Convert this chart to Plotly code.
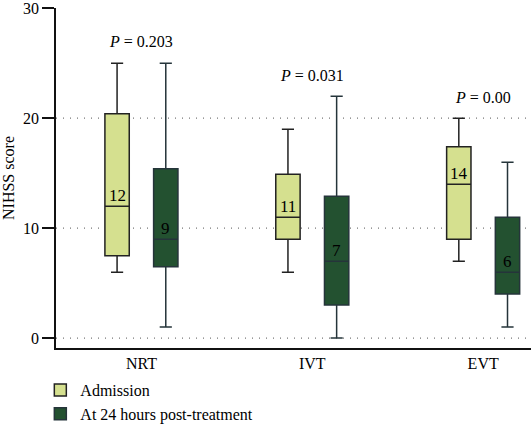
import plotly.graph_objects as go

categories = ["NRT", "IVT", "EVT"]
series_names = ["Admission", "At 24 hours post-treatment"]

adm_low = [6, 6, 7]
adm_q1 = [7.5, 9, 9]
adm_med = [12, 11, 14]
adm_q3 = [20.4, 14.9, 17.4]
adm_high = [25, 19, 20]

post_low = [1, 0, 1]
post_q1 = [6.5, 3, 4]
post_med = [9, 7, 6]
post_q3 = [15.4, 12.9, 11]
post_high = [25, 22, 16]

p_labels = ["0.203", "0.031", "0.00"]
p_y = [27, 23.9, 21.9]

y_ticks = [0, 10, 20, 30]
grid_vals = [0, 10, 20]

FONT = "Liberation Serif"
ADM_FILL = "#d5e08f"
POST_FILL = "#235130"

fig = go.Figure()
fig.add_trace(go.Box(
    name=series_names[0], x=categories,
    q1=adm_q1, median=adm_med, q3=adm_q3,
    lowerfence=adm_low, upperfence=adm_high,
    fillcolor=ADM_FILL, line=dict(color="#222", width=1.5),
    whiskerwidth=0.5, boxpoints=False, hoverinfo="skip",
))
fig.add_trace(go.Box(
    name=series_names[1], x=categories,
    q1=post_q1, median=post_med, q3=post_q3,
    lowerfence=post_low, upperfence=post_high,
    fillcolor=POST_FILL, line=dict(color="#25343a", width=1.5),
    whiskerwidth=0.5, boxpoints=False, hoverinfo="skip",
))

# median labels inside boxes
for meds, shift in ((adm_med, -24), (post_med, 24)):
    for c, m in zip(categories, meds):
        fig.add_annotation(x=c, y=m, text=str(m), showarrow=False,
                           xshift=shift, yshift=11,
                           font=dict(family=FONT, size=17, color="#000"))

# P value labels
for c, p, py in zip(categories, p_labels, p_y):
    fig.add_annotation(x=c, y=py, text="<i>P</i> = " + p, showarrow=False,
                       font=dict(family=FONT, size=16, color="#000"))

# dotted gridlines
for g in grid_vals:
    fig.add_shape(type="line", xref="paper", yref="y", x0=0, x1=1, y0=g, y1=g,
                  line=dict(color="#777", width=1.2, dash="1px,6px"), layer="below")

fig.update_layout(
    width=531, height=429,
    margin=dict(l=56, r=0, t=8, b=81, autoexpand=False),
    paper_bgcolor="white", plot_bgcolor="white",
    boxmode="group", boxgap=0.43, boxgroupgap=0.5,
    font=dict(family=FONT, size=16, color="#000"),
    showlegend=True,
    legend=dict(x=-0.033, y=-0.074, xanchor="left", yanchor="top",
                font=dict(family=FONT, size=16, color="#000"),
                tracegroupgap=0, itemwidth=30, bgcolor="rgba(0,0,0,0)"),
    xaxis=dict(range=[-0.5, 2.28], showgrid=False, zeroline=False,
               showline=True, linecolor="#111", linewidth=1.5, automargin=False,
               ticks="", tickfont=dict(family=FONT, size=16), fixedrange=True),
    yaxis=dict(range=[-0.9, 30.02], tickvals=y_ticks, showgrid=False, zeroline=False,
               showline=True, linecolor="#111", linewidth=1.5, automargin=False,
               ticks="outside", ticklen=12, tickwidth=1.5, tickcolor="#111",
               tickfont=dict(family=FONT, size=16), ticklabeloverflow="allow",
               title=dict(text="NIHSS score", font=dict(family=FONT, size=16), standoff=6),
               fixedrange=True),
)

fig.write_html("out.html", config={"displayModeBar": False},
               post_script="document.body.style.margin='0';")
